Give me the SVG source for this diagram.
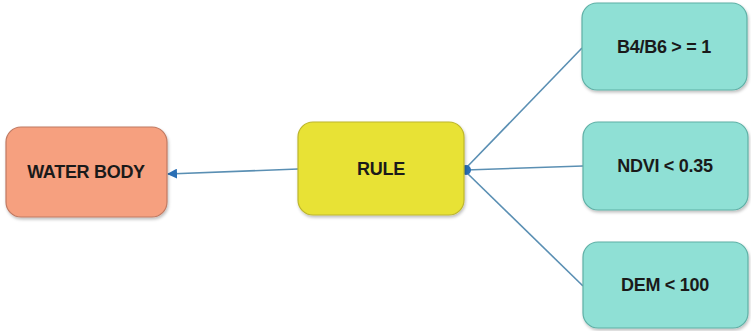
<svg xmlns="http://www.w3.org/2000/svg" width="751" height="331" viewBox="0 0 751 331">
  <style>
    .box { stroke-width: 1.2; filter: url(#shadow); }
    .water { fill: #f6a07f; stroke: #c07a62; }
    .rule { fill: #e8e235; stroke: #bdb62c; }
    .cond { fill: #8fe0d5; stroke: #5fb0a6; }
    .label { font-family: "Liberation Sans", Arial, sans-serif; font-size: 18px; font-weight: bold; fill: #1a1a1a; text-anchor: middle; dominant-baseline: central; letter-spacing: -0.3px; }
    .link { stroke: #5a8fb3; stroke-width: 1.6; fill: none; }
  </style>
  <defs>
    <filter id="shadow" x="-10%" y="-10%" width="125%" height="130%">
      <feDropShadow dx="1" dy="2" stdDeviation="1.5" flood-color="#000" flood-opacity="0.25"/>
    </filter>
    <marker id="arrow" viewBox="0 0 10 10" refX="9" refY="5" markerWidth="10" markerHeight="10" markerUnits="userSpaceOnUse" orient="auto">
      <path d="M0,0 L10,5 L0,10 Z" fill="#2a6fb5"/>
    </marker>
  </defs>

  <g id="connectors">
    <line class="link" x1="298" y1="169" x2="168" y2="174" marker-end="url(#arrow)"/>
    <line class="link" x1="582" y1="48" x2="466" y2="168"/>
    <line class="link" x1="583" y1="166" x2="466" y2="170"/>
    <line class="link" x1="583" y1="286" x2="466" y2="172"/>
    <circle cx="466" cy="170" r="5" fill="#2a6fb5"/>
  </g>

  <g id="water-body">
    <rect class="box water" x="6" y="127" width="161" height="90" rx="15"/>
    <text class="label" x="86" y="172">WATER BODY</text>
  </g>

  <g id="rule">
    <rect class="box rule" x="298" y="122" width="166" height="93" rx="15"/>
    <text class="label" x="381" y="169">RULE</text>
  </g>

  <g id="b4-b6">
    <rect class="box cond" x="582" y="3" width="165" height="87" rx="15"/>
    <text class="label" x="664" y="47">B4/B6 &gt; = 1</text>
  </g>

  <g id="ndvi">
    <rect class="box cond" x="583" y="122" width="165" height="88" rx="15"/>
    <text class="label" x="665" y="166">NDVI &lt; 0.35</text>
  </g>

  <g id="dem">
    <rect class="box cond" x="583" y="242" width="165" height="86" rx="15"/>
    <text class="label" x="665" y="285">DEM &lt; 100</text>
  </g>
</svg>
